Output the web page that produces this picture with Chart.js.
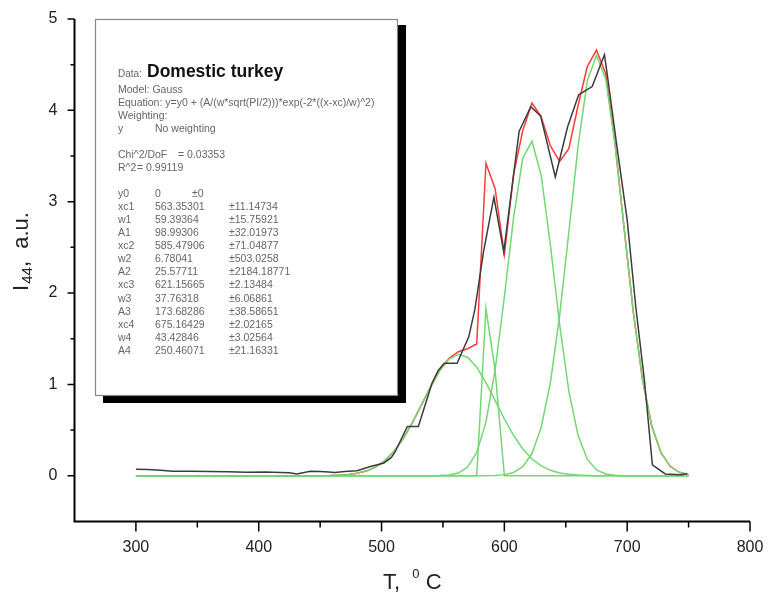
<!DOCTYPE html>
<html>
<head>
<meta charset="utf-8">
<script src="https://cdn.jsdelivr.net/npm/chart.js@4.4.1/dist/chart.umd.min.js"></script>
<style>
  body { margin: 0; background: #fff; }
  #chart { display: block; }
</style>
</head>
<body>
<canvas id="chart" width="768" height="597"></canvas>
<script>
// measured curve (black)
const dataTemps = [300, 310, 320, 330, 345, 360, 375, 390, 405, 418, 425, 431, 437, 442, 450, 457, 462, 470, 480, 491,
  502, 508, 511, 521, 530, 541, 546, 551, 561.5, 571, 576, 583, 591.5, 599.5, 612, 621.5, 629.5, 641.5, 651.5, 660.5,
  671.5, 681.5, 684, 692, 700, 707, 714, 720.5, 731, 743.5, 749];
const dataValues = [0.07, 0.068, 0.06, 0.05, 0.05, 0.047, 0.044, 0.038, 0.04, 0.036, 0.032, 0.02, 0.035, 0.05, 0.045, 0.04, 0.035, 0.045, 0.055, 0.10,
  0.14, 0.2, 0.26, 0.54, 0.54, 1.01, 1.15, 1.23, 1.23, 1.52, 1.82, 2.45, 3.05, 2.45, 3.77, 4.04, 3.94, 3.27, 3.82, 4.17,
  4.26, 4.61, 4.37, 3.57, 2.80, 1.85, 1.05, 0.12, 0.02, 0.01, 0.025];

// fit grid (red sum, green peaks)
const fitTemps = [300, 307.5, 315, 322.5, 330, 337.5, 345, 352.5, 360, 367.5,
  375, 382.5, 390, 397.5, 405, 412.5, 420, 427.5, 435, 442.5,
  450, 457.5, 465, 472.5, 480, 487.5, 495, 502.5, 510, 517.5,
  525, 532.5, 540, 547.5, 555, 562.5, 570, 577.5, 585, 592.5,
  600, 607.5, 615, 622.5, 630, 637.5, 645, 652.5, 660, 667.5,
  675, 682.5, 690, 697.5, 705, 712.5, 720, 727.5, 735, 742.5, 750];
const fitSum = [0, 0, 0, 0, 0, 0, 0, 0, 0, 0,
  0, 0, 0, 0, 0, 0, 0, 0, 0, 0,
  0.001, 0.002, 0.006, 0.012, 0.026, 0.051, 0.094, 0.163, 0.265, 0.404,
  0.578, 0.775, 0.976, 1.155, 1.286, 1.358, 1.390, 1.442, 3.42, 3.14,
  2.42, 3.30, 3.78, 4.08, 3.93, 3.61, 3.44, 3.58, 4.05, 4.48,
  4.66, 4.40, 3.65, 2.71, 1.79, 1.05, 0.545, 0.252, 0.103, 0.038, 0.012];
const peak1 = [0, 0, 0, 0, 0, 0, 0, 0, 0, 0,
  0, 0, 0, 0, 0, 0, 0, 0, 0, 0,
  0.001, 0.002, 0.006, 0.012, 0.026, 0.051, 0.094, 0.163, 0.265, 0.404,
  0.578, 0.775, 0.976, 1.153, 1.278, 1.329, 1.297, 1.188, 1.020, 0.822,
  0.621, 0.441, 0.293, 0.183, 0.107, 0.059, 0.030, 0.015, 0.007, 0.003,
  0.001, 0, 0, 0, 0, 0, 0, 0, 0, 0, 0];
const peak2 = [0, 0, 0, 0, 0, 0, 0, 0, 0, 0,
  0, 0, 0, 0, 0, 0, 0, 0, 0, 0,
  0, 0, 0, 0, 0, 0, 0, 0, 0, 0,
  0, 0, 0, 0, 0, 0, 0, 0, 1.83, 1.15,
  0, 0, 0, 0, 0, 0, 0, 0, 0, 0,
  0, 0, 0, 0, 0, 0, 0, 0, 0, 0, 0];
const peak3 = [0, 0, 0, 0, 0, 0, 0, 0, 0, 0,
  0, 0, 0, 0, 0, 0, 0, 0, 0, 0,
  0, 0, 0, 0, 0, 0, 0, 0, 0, 0,
  0, 0, 0, 0.002, 0.008, 0.029, 0.093, 0.254, 0.587, 1.160,
  1.959, 2.825, 3.480, 3.661, 3.288, 2.524, 1.654, 0.925, 0.442, 0.181,
  0.063, 0.019, 0.005, 0.001, 0, 0, 0, 0, 0, 0, 0];
const peak4 = [0, 0, 0, 0, 0, 0, 0, 0, 0, 0,
  0, 0, 0, 0, 0, 0, 0, 0, 0, 0,
  0, 0, 0, 0, 0, 0, 0, 0, 0, 0,
  0, 0, 0, 0, 0, 0, 0, 0, 0.001, 0.003,
  0.012, 0.036, 0.099, 0.243, 0.529, 1.022, 1.753, 2.668, 3.605, 4.323,
  4.600, 4.345, 3.642, 2.710, 1.790, 1.049, 0.545, 0.252, 0.103, 0.038, 0.012];

const xTicks = [300, 400, 500, 600, 700, 800];
const yTicks = [0, 1, 2, 3, 4, 5];

// fit report shown in the box
const reportTitle = "Domestic turkey";
const reportHead = [
  ["Model: Gauss"],
  ["Equation: y=y0 + (A/(w*sqrt(PI/2)))*exp(-2*((x-xc)/w)^2)"],
  ["Weighting:"],
  ["y", "No weighting"],
];
const reportFit = [["Chi^2/DoF", "= 0.03353"], ["R^2", "= 0.99119"]];
const reportParams = [
  ["y0", "0", "\u00b10"],
  ["xc1", "563.35301", "\u00b111.14734"],
  ["w1", "59.39364", "\u00b115.75921"],
  ["A1", "98.99306", "\u00b132.01973"],
  ["xc2", "585.47906", "\u00b171.04877"],
  ["w2", "6.78041", "\u00b1503.0258"],
  ["A2", "25.57711", "\u00b12184.18771"],
  ["xc3", "621.15665", "\u00b12.13484"],
  ["w3", "37.76318", "\u00b16.06861"],
  ["A3", "173.68286", "\u00b138.58651"],
  ["xc4", "675.16429", "\u00b12.02165"],
  ["w4", "43.42846", "\u00b13.02564"],
  ["A4", "250.46071", "\u00b121.16331"],
];

const FONT = '"Liberation Sans", Arial, sans-serif';

function pairs(xs, ys) {
  return xs.map((t, i) => ({ x: t, y: ys[i] }));
}

function lineSet(label, xs, ys, color) {
  return {
    label,
    data: pairs(xs, ys),
    borderColor: color,
    borderWidth: 1.5,
    pointRadius: 0,
    tension: 0,
    fill: false,
  };
}

const decorPlugin = {
  id: "decor",
  afterDraw(chart) {
    const { ctx, chartArea: a, scales } = chart;
    const x = scales.x;
    const y = scales.y;
    ctx.save();

    // axis lines
    ctx.strokeStyle = "#000";
    ctx.lineWidth = 2;
    ctx.beginPath();
    ctx.moveTo(a.left, a.top);
    ctx.lineTo(a.left, a.bottom);
    ctx.lineTo(a.right, a.bottom);
    ctx.stroke();

    // major / minor tick marks, outward
    ctx.lineWidth = 1.5;
    ctx.beginPath();
    for (let v = 0; v <= 5; v += 0.5) {
      const py = y.getPixelForValue(v);
      const len = yTicks.includes(v) ? 7 : 4;
      ctx.moveTo(a.left - len, py);
      ctx.lineTo(a.left, py);
    }
    for (let v = 300; v <= 800; v += 50) {
      const px = x.getPixelForValue(v);
      const len = xTicks.includes(v) ? 10 : 6;
      ctx.moveTo(px, a.bottom);
      ctx.lineTo(px, a.bottom + len);
    }
    ctx.stroke();

    // y title: I_44, a.u.
    ctx.fillStyle = "#222";
    ctx.textBaseline = "alphabetic";
    ctx.translate(20, 252);
    ctx.rotate(-Math.PI / 2);
    const big = "22px " + FONT;
    const small = "15px " + FONT;
    ctx.font = big;
    const wI = ctx.measureText("I").width;
    const wRest = ctx.measureText(",  a.u.").width;
    ctx.font = small;
    const wSub = ctx.measureText("44").width;
    let sx = -(wI + wSub + wRest) / 2;
    ctx.font = big;
    ctx.fillText("I", sx, 8);
    sx += wI + 1;
    ctx.font = small;
    ctx.fillText("44", sx, 12);
    sx += wSub;
    ctx.font = big;
    ctx.fillText(",  a.u.", sx, 8);
    ctx.setTransform(1, 0, 0, 1, 0, 0);

    // x title: T, ^0 C
    ctx.font = big;
    const wT = ctx.measureText("T,  ").width;
    const wC = ctx.measureText(" C").width;
    ctx.font = "13px " + FONT;
    const wSup = ctx.measureText("0").width;
    let tx = (a.left + a.right) / 2 - (wT + wSup + wC) / 2;
    ctx.font = big;
    ctx.fillText("T,  ", tx, 589);
    tx += wT;
    ctx.font = "13px " + FONT;
    ctx.fillText("0", tx, 578);
    tx += wSup;
    ctx.font = big;
    ctx.fillText(" C", tx, 589);

    // report box with shadow
    ctx.fillStyle = "#000";
    ctx.fillRect(398, 25, 8, 378);
    ctx.fillRect(103, 396, 303, 7);
    ctx.fillStyle = "#fff";
    ctx.fillRect(95, 19, 303, 377);
    ctx.strokeStyle = "#888";
    ctx.lineWidth = 1.2;
    ctx.strokeRect(95.5, 19.5, 302, 376);

    ctx.fillStyle = "#666";
    ctx.font = "10px " + FONT;
    ctx.fillText("Data:", 118, 77);
    ctx.fillStyle = "#111";
    ctx.font = "bold 17.5px " + FONT;
    ctx.fillText(reportTitle, 147, 77);

    ctx.fillStyle = "#666";
    ctx.font = "10.5px " + FONT;
    ctx.textBaseline = "middle";
    let row = 90;
    reportHead.forEach((r) => {
      ctx.fillText(r[0], 118, row);
      if (r[1]) ctx.fillText(r[1], 155, row);
      row += 13;
    });
    ctx.fillText(reportFit[0][0], 118, 155);
    ctx.fillText(reportFit[0][1], 178, 155);
    ctx.fillText(reportFit[1][0], 118, 168);
    ctx.fillText(reportFit[1][1], 137, 168);
    row = 194;
    reportParams.forEach((r, i) => {
      ctx.fillText(r[0], 118, row);
      ctx.fillText(r[1], 155, row);
      ctx.fillText(r[2], i === 0 ? 192 : 229, row);
      row += 13.08;
    });
    ctx.restore();
  },
};

function drawChart() {
  const config = {
    type: "line",
    data: {
      datasets: [
        lineSet("Data", dataTemps, dataValues, "#3c3c3c"),
        lineSet("Peak 1", fitTemps, peak1, "#72d872"),
        lineSet("Peak 2", fitTemps, peak2, "#72d872"),
        lineSet("Peak 3", fitTemps, peak3, "#72d872"),
        lineSet("Peak 4", fitTemps, peak4, "#72d872"),
        lineSet("Fit", fitTemps, fitSum, "#ff3a3a"),
      ],
    },
    options: {
      responsive: false,
      animation: false,
      layout: { padding: { top: 19, right: 18, left: 0, bottom: 0 } },
      plugins: { legend: { display: false }, tooltip: { enabled: false } },
      scales: {
        x: {
          type: "linear",
          min: 250,
          max: 800,
          grid: { display: false, drawTicks: false },
          border: { display: false },
          ticks: {
            stepSize: 50,
            autoSkip: false,
            maxRotation: 0,
            padding: 17,
            color: "#222",
            font: { family: FONT, size: 16 },
            callback: (v) => (xTicks.includes(v) ? String(v) : ""),
          },
          afterFit: (s) => {
            s.height = 75.6;
            s.paddingLeft = 0;
            s.paddingRight = 0;
          },
        },
        y: {
          type: "linear",
          min: -0.5,
          max: 5,
          grid: { display: false, drawTicks: false },
          border: { display: false },
          ticks: {
            stepSize: 0.5,
            autoSkip: false,
            padding: 17,
            color: "#222",
            font: { family: FONT, size: 16 },
            callback: (v) => (yTicks.includes(v) ? String(v) : ""),
          },
          afterFit: (s) => {
            s.width = 74.5;
            s.paddingTop = 0;
            s.paddingBottom = 0;
          },
        },
      },
    },
    plugins: [decorPlugin],
  };
  new Chart(document.getElementById("chart"), config);
}

window.addEventListener("DOMContentLoaded", drawChart);
</script>
</body>
</html>
